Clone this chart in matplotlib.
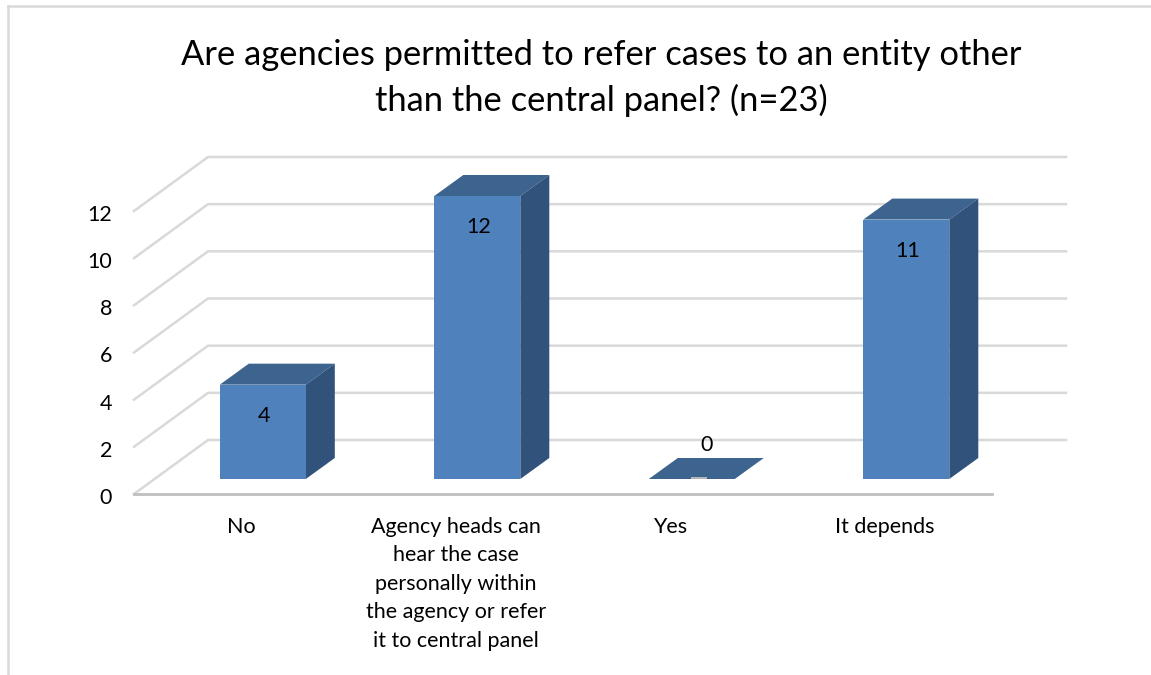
import matplotlib
matplotlib.use("Agg")
import matplotlib.pyplot as plt
from matplotlib.patches import Polygon, Rectangle

plt.rcParams['font.family'] = ['Lato', 'DejaVu Sans']

categories = ["No",
              "Agency heads can\nhear the case\npersonally within\nthe agency or refer\nit to central panel",
              "Yes", "It depends"]
values = [4, 12, 0, 11]
y_ticks = [0, 2, 4, 6, 8, 10, 12]
title = "Are agencies permitted to refer cases to an entity other\nthan the central panel? (n=23)"

W, H = 1151, 675
fig = plt.figure(figsize=(W / 100, H / 100), dpi=100, facecolor="white")

# Front plane of the 3-D chart box
L, R, B, T = 134, 992, 494, 211
ax = fig.add_axes([L / W, 1 - B / H, (R - L) / W, (B - T) / H])
ax.set_xlim(0, len(categories))
ax.set_ylim(0, 12)
ax.axis("off")

ux = (R - L) / len(categories)   # px per category
uy = (B - T) / 12                # px per unit
wall_dx, wall_dy = 74 / ux, 54 / uy      # depth of the box
bar_dx, bar_dy = 29 / ux, 21 / uy        # depth of a bar
bar_x0, bar_y0 = 0.40, 15 / uy           # inset of the bar from the front plane
bar_w = 86 / ux

GRID = "#d9d9d9"
FRONT = "#4f81bd"
TOP = "#3d638f"
SIDE = "#31527a"

for t in y_ticks:
    ax.plot([0, wall_dx, len(categories) + wall_dx], [t, t + wall_dy, t + wall_dy],
            color=GRID, lw=1.8, clip_on=False, zorder=1, solid_joinstyle="miter")
ax.plot([0, len(categories)], [0, 0], color="#bfbfbf", lw=2.0, clip_on=False, zorder=1)

for i, v in enumerate(values):
    x0 = i + bar_x0
    y0 = bar_y0
    ax.add_patch(Polygon([(x0, y0 + v), (x0 + bar_w, y0 + v),
                          (x0 + bar_w + bar_dx, y0 + v + bar_dy), (x0 + bar_dx, y0 + v + bar_dy)],
                         closed=True, fc=TOP, ec="none", clip_on=False, zorder=3))
    if v > 0:
        ax.add_patch(Polygon([(x0 + bar_w, y0), (x0 + bar_w + bar_dx, y0 + bar_dy),
                              (x0 + bar_w + bar_dx, y0 + v + bar_dy), (x0 + bar_w, y0 + v)],
                             closed=True, fc=SIDE, ec="none", clip_on=False, zorder=3))
        ax.add_patch(Rectangle((x0, y0), bar_w, v, fc=FRONT, ec="none", clip_on=False, zorder=4))
        ax.text(x0 + bar_w / 2 + 1 / ux, y0 + v - 31 / uy, str(v), ha="center", va="center",
                fontsize=15.5, color="black", zorder=5)
    else:
        ax.add_patch(Rectangle((x0 + bar_w * 0.49, y0), bar_w * 0.19, 2 / uy, fc="#b5b5b5",
                               ec="none", clip_on=False, zorder=4))
        ax.text(x0 + bar_w * 0.67, y0 + bar_dy + 13 / uy, str(v), ha="center", va="center",
                fontsize=15.5, color="black", zorder=5)

for t in y_ticks:
    ax.text(-22 / ux, t - 4 / uy, str(t), ha="right", va="center", fontsize=15.5, color="black",
            clip_on=False)

for i, c in enumerate(categories):
    ax.text(i + 0.5, -23 / uy, c, ha="center", va="top", fontsize=15.5, color="black",
            linespacing=1.53, clip_on=False)

fig.text(601 / W, 1 - 78 / H, title, ha="center", va="center", fontsize=24.8,
         color="black", linespacing=1.45)

# Chart frame: only the top and left edges fall inside the picture
fig.add_artist(plt.Line2D([8 / W, 8 / W], [0, 1 - 6 / H], color=GRID, lw=1.8))
fig.add_artist(plt.Line2D([8 / W, 1], [1 - 6 / H, 1 - 6 / H], color=GRID, lw=1.8))

fig.savefig("out.png", dpi=100, facecolor="white")
